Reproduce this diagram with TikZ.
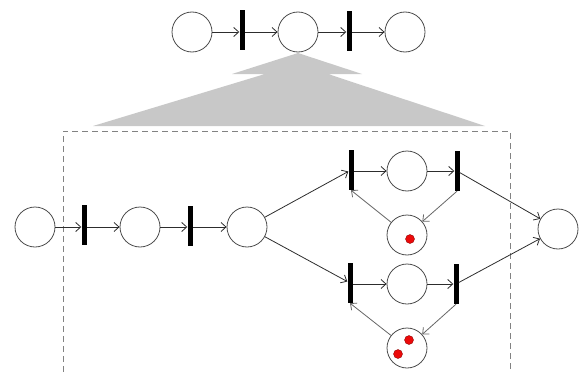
\documentclass[tikz,border=0pt]{standalone}
\usetikzlibrary{arrows.meta}
\definecolor{fanfill}{RGB}{200,200,200}
\definecolor{boxline}{RGB}{130,130,130}
\definecolor{arcline}{RGB}{45,45,45}
\definecolor{tokenred}{RGB}{235,10,10}
\begin{document}
\begin{tikzpicture}[x=1pt,y=-1pt,
  place/.style={circle,draw=black!70,line width=0.8pt,minimum size=40pt,inner sep=0pt,fill=white},
  trans/.style={rectangle,fill=black,draw=none,minimum width=5pt,minimum height=40pt,inner sep=0pt},
  arc/.style={draw=arcline,line width=0.8pt,-{Straight Barb[length=5pt,width=9pt]}},
  feedback/.style={arc,draw=black!60},
  token/.style={circle,fill=tokenred,draw=red!50!black,line width=0.3pt,minimum size=9pt,inner sep=0pt}]
\useasboundingbox (0,0) rectangle (581,372);

% refinement fan below the abstract place
\fill[fanfill] (298,53) -- (362,74) -- (328,74) -- (485,126) -- (93,126) -- (265,74) -- (232,74) -- cycle;

% dashed frame of the refined subnet (open at the bottom)
\draw[boxline,line width=0.8pt,dash pattern=on 6pt off 4pt] (63,372) -- (63,131) -- (510,131) -- (510,372);

% abstract net
\node[place] (u1) at (192,32) {};
\node[trans] (ut1) at (242,30) {};
\node[place] (u2) at (298,32) {};
\node[trans] (ut2) at (349,31) {};
\node[place] (u3) at (405,32) {};
\draw[arc] (u1) -- (u1 -| ut1.west);
\draw[arc] (ut1.east |- u2) -- (u2);
\draw[arc] (u2) -- (u2 -| ut2.west);
\draw[arc] (ut2.east |- u3) -- (u3);

% refined net
\node[place] (a) at (35,227) {};
\node[trans] (t1) at (84,225) {};
\node[place] (b) at (140,227) {};
\node[trans] (t2) at (190,226) {};
\node[place] (c) at (247,227) {};

\node[trans] (t3) at (351,170) {};
\node[place] (p1) at (407,171) {};
\node[trans] (t4) at (457,171) {};
\node[place] (q1) at (407,235) {};

\node[trans] (t5) at (350,283) {};
\node[place] (p2) at (407,284) {};
\node[trans] (t6) at (456,284) {};
\node[place] (q2) at (407,348) {};

\node[place] (r) at (558,229) {};

% tokens
\node[token] (k1) at (410,239) {};
\node[token] (k2) at (409,340) {};
\node[token] (k3) at (398,354) {};

\draw[arc] (a) -- (a -| t1.west);
\draw[arc] (t1.east |- b) -- (b);
\draw[arc] (b) -- (b -| t2.west);
\draw[arc] (t2.east |- c) -- (c);
\draw[arc] (c) -- (t3);
\draw[arc] (c) -- (t5);
\draw[arc] (t3.east |- p1) -- (p1);
\draw[arc] (p1) -- (p1 -| t4.west);
\draw[arc] (t4) -- (r);
\draw[arc] (t5.east |- p2) -- (p2);
\draw[arc] (p2) -- (p2 -| t6.west);
\draw[arc] (t6) -- (r);
\draw[feedback] (t4.south) -- (q1);
\draw[feedback] (q1) -- (t3.south);
\draw[feedback] (t6.south) -- (q2);
\draw[feedback] (q2) -- (t5.south);
\end{tikzpicture}
\end{document}
